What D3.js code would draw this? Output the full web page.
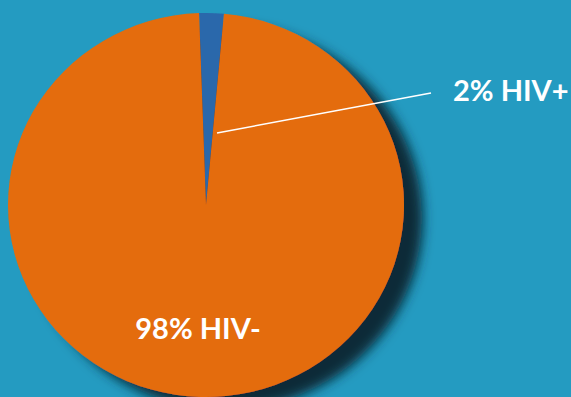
<!DOCTYPE html>
<html>
<head>
<meta charset="utf-8">
<script src="https://cdn.jsdelivr.net/npm/d3@7"></script>
<style>
  html, body { margin: 0; padding: 0; background: #249bc1; overflow: hidden; }
  #chart-area { width: 571px; height: 397px; }
</style>
</head>
<body>
<div id="chart-area"></div>
<script>
// data
var categories = ["HIV+", "HIV-"];
var shares = [2, 98];
var colours = ["#2c67ab", "#e46c0a"];

var width = 571;
var height = 397;

var svg = d3.select("#chart-area").append("svg")
    .attr("width", width)
    .attr("height", height);

svg.append("rect")
    .attr("width", width)
    .attr("height", height)
    .attr("fill", "#249bc1");

// drop shadow under the pie
var defs = svg.append("defs");
var shadow = defs.append("filter")
    .attr("id", "shadow")
    .attr("x", "-20%").attr("y", "-20%")
    .attr("width", "150%").attr("height", "150%");
shadow.append("feGaussianBlur")
    .attr("in", "SourceAlpha")
    .attr("stdDeviation", 6)
    .attr("result", "blur");
shadow.append("feOffset")
    .attr("in", "blur")
    .attr("dx", 19).attr("dy", 13)
    .attr("result", "off");
shadow.append("feFlood")
    .attr("flood-color", "#0b2b38")
    .attr("flood-opacity", 1);
shadow.append("feComposite")
    .attr("in2", "off")
    .attr("operator", "in")
    .attr("result", "shade");
var merge = shadow.append("feMerge");
merge.append("feMergeNode").attr("in", "shade");
merge.append("feMergeNode").attr("in", "SourceGraphic");

var cx = 206, cy = 205, rx = 198, ry = 192;

var pie = d3.pie()
    .sort(null)
    .startAngle(-0.035)
    .endAngle(2 * Math.PI - 0.035);

var arc = d3.arc()
    .innerRadius(0)
    .outerRadius(rx);

var g = svg.append("g")
    .attr("transform", "translate(" + cx + ", " + cy + ") scale(1, " + (ry / rx) + ")")
    .attr("filter", "url(#shadow)");

g.selectAll("path")
    .data(pie(shares))
    .enter()
    .append("path")
        .attr("d", arc)
        .attr("fill", (d, i) => { return colours[i]; });

var fmt = (v) => { return v + "%"; };

// leader line for the small slice
svg.append("line")
    .attr("x1", 217).attr("y1", 133)
    .attr("x2", 431).attr("y2", 93)
    .attr("stroke", "white")
    .attr("stroke-width", 1.5);

svg.append("text")
    .attr("x", 453)
    .attr("y", 101)
    .attr("font-family", "Lato")
    .attr("font-weight", 700)
    .attr("font-size", "29px")
    .attr("fill", "white")
    .text(fmt(shares[0]) + " " + categories[0]);

svg.append("text")
    .attr("x", 198)
    .attr("y", 339)
    .attr("text-anchor", "middle")
    .attr("font-family", "Lato")
    .attr("font-weight", 700)
    .attr("font-size", "29px")
    .attr("fill", "white")
    .text(fmt(shares[1]) + " " + categories[1]);
</script>
</body>
</html>
